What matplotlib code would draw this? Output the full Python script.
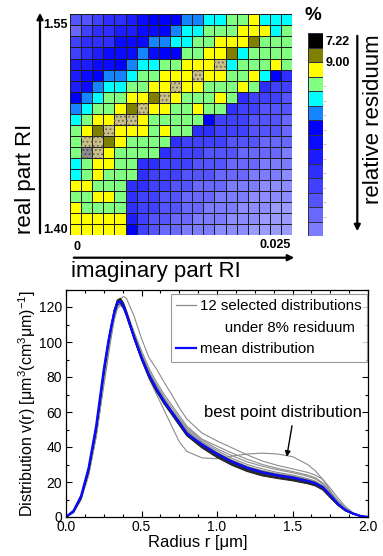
import numpy as np
import matplotlib
matplotlib.use("Agg")
import matplotlib.pyplot as plt
from matplotlib.colors import ListedColormap
from matplotlib.patches import Rectangle, FancyArrowPatch
from matplotlib.lines import Line2D

plt.rcParams['font.family'] = ['Liberation Sans', 'DejaVu Sans']
plt.rcParams['mathtext.fontset'] = 'custom'
plt.rcParams['mathtext.rm'] = 'Liberation Sans'
plt.rcParams['mathtext.it'] = 'Liberation Sans:italic'
plt.rcParams['hatch.linewidth'] = 0.8

# residuum map, read cell by cell (row 0 = real part 1.55, col 0 = imaginary part 0)
# K black, O olive, Y yellow, G green, C cyan, A azure, 6..f blues (dark -> light),
# T selected (< 8 %), S best point
map_rows = [
    "bba9987666AACCGGYCCC",
    "ca9988776ACCGGGYYYCG",
    "a999777AACCGGYYYOGGG",
    "a98777A766GGYYOCGGGG",
    "88776ACCGGYYYTCGGGYG",
    "876AACGGYYYTYYGGYC69",
    "87ACCGGYYTYYGGGYG9aa",
    "6ACGGYYOTYGGGYG9aaab",
    "ACGGYOTYYGGYGG9aabbb",
    "CGYYTTYGGGGG6aaabbbc",
    "GYOTYYYGYGG99aaabbbc",
    "GTTOYGGGG9aaaabbbccc",
    "GSTYGGGG9aaabbbccccd",
    "CGYYGG99aaabbbcccddd",
    "CGYGGG9aaabbbcccddde",
    "YYGGG99aabbcccdddeee",
    "GGYYG9aabbcccdddeeee",
    "YGGGG9aabbccdddeeeff",
    "YYYYY8abbccdddeeefff",
    "YYYYY6abccdddeeeffff",
]
cell_colors = {
    'K': '#000000', 'O': '#7f7f00', 'Y': '#ffff00', 'G': '#80ff80',
    'C': '#00ffff', 'A': '#1484ff', '6': '#0000ff', '7': '#0a0aff',
    '8': '#1c1cff', '9': '#2e2eff', 'a': '#4040ff', 'b': '#5454ff',
    'c': '#6868ff', 'd': '#7c7cff', 'e': '#8c8cff', 'f': '#9a9aff',
    'T': '#c9c088', 'S': '#8c8c8c',
}
cbar_keys = ['K', 'O', 'Y', 'G', 'C', 'A', '6', '7', '8', '9', 'a', 'b', 'c', 'd']
real_ticks = ['1.55', '1.40']
imag_ticks = ['0', '0.025']

# size distributions
radius = [0.00, 0.05, 0.10, 0.15, 0.20, 0.25, 0.28, 0.30, 0.32, 0.34, 0.36, 0.38, 0.40,
          0.45, 0.50, 0.55, 0.60, 0.65, 0.70, 0.75, 0.80, 0.90, 1.00, 1.10, 1.20, 1.30,
          1.40, 1.50, 1.60, 1.65, 1.70, 1.75, 1.80, 1.85, 1.90, 1.95, 2.00]
mean_dist = [0, 3.5, 12, 28, 52, 84, 100, 109, 117, 122.5, 123.2, 120.5, 116, 103, 91, 81, 73, 66,
             60, 54, 47.5, 41.5, 36, 31.5, 28, 25.5, 23.8, 22.5, 20.5, 19.3, 17, 12.5, 7.5, 4, 2, 0.6, 0]
best_dist = [0, 2.5, 10, 24, 46, 76, 93, 104, 113, 119, 121, 119, 115, 102, 90, 79, 70, 61,
             52, 43, 37.5, 33.8, 33.3, 34.8, 36, 36.5, 36, 34.5, 30, 26.5, 21.5, 15, 9, 5, 2, 0.5, 0]
upper1 = [0, 2.5, 10, 24, 46, 75, 92, 103, 113, 120, 124.5, 126, 125, 115, 102, 91, 84.5, 77,
          70, 62.5, 56, 48, 43.5, 39.5, 35.5, 32, 29.5, 27.5, 25.5, 24, 21.5, 16.5, 11, 6, 2.5, 0.7, 0]
upper2 = [0, 3, 11, 26, 49, 80, 97, 107, 116, 122, 124, 122, 118, 106, 95, 85, 77, 70,
          64, 58, 52, 44.5, 40.5, 36.5, 33, 30, 27.8, 26, 24, 22.5, 19.5, 14.5, 9.5, 5, 2, 0.6, 0]
c1 = [0, 3, 11, 27, 50, 82, 99, 108, 117, 123, 124, 121.5, 117, 104, 92.5, 82.5, 74.5, 67.5,
      61, 55.5, 50, 43, 38, 33.5, 30, 27.5, 25.5, 24, 22, 20.5, 18, 13, 8, 4.5, 2, 0.6, 0]
c2 = [0, 3.2, 11.5, 27, 51, 83, 99, 108, 116, 121, 122, 119.5, 115, 102, 90, 80, 72, 65,
      59.5, 53, 47, 40, 34.5, 30, 26.5, 24, 22.5, 21.2, 19.5, 18.3, 16, 11.5, 7, 3.7, 1.8, 0.5, 0]
c3 = [0, 3, 11, 26.5, 50, 82, 99, 109, 118, 123.5, 124.5, 122, 117, 103.5, 91, 80.5, 72.5, 65.5,
      60, 53.5, 47.5, 40.5, 35, 30.5, 27, 24.5, 23, 21.5, 19.8, 18.6, 16.5, 12, 7.2, 3.8, 1.9, 0.5, 0]
c4 = [0, 2.8, 10.5, 26, 49, 81, 98, 108, 118, 124, 125, 122.5, 117.5, 103, 90.5, 80, 72, 65,
      59, 52.5, 46.5, 39.5, 34, 29.5, 26, 23.5, 22, 20.7, 19, 17.8, 15.5, 11, 6.8, 3.5, 1.7, 0.5, 0]
c5 = [0, 3.3, 12, 28, 52, 83, 100, 109, 117, 122, 123.5, 121, 116.5, 103.5, 92, 82, 74, 67,
      61, 55, 49.5, 42.5, 37, 32.5, 29, 26.5, 24.8, 23.4, 21.5, 20.2, 17.8, 13, 7.8, 4.2, 2, 0.6, 0]
c6 = [0, 3, 11.5, 27.5, 51, 83, 100, 109.5, 118, 123, 123.5, 120.5, 115.5, 102.5, 90.5, 80.5, 72.5, 65.5,
      59.5, 53.5, 47.5, 40.8, 35.3, 30.8, 27.3, 24.8, 23.2, 21.8, 20, 18.8, 16.6, 12.2, 7.3, 3.9, 1.9, 0.5, 0]
c7 = [0, 2.8, 10.5, 25.5, 48.5, 80, 97, 107, 116, 122, 124, 122, 118, 105, 93.5, 83.5, 75.5, 68.5,
      62.5, 56.5, 51, 44, 39, 35, 31.5, 29, 27, 25.3, 23.3, 21.8, 19, 14, 8.5, 4.6, 2.1, 0.6, 0]
c8 = [0, 3.4, 12, 28, 52, 84, 101, 110, 118.5, 123.5, 124, 121, 116, 102.5, 90, 79.5, 71.5, 64.5,
      58.5, 52.5, 46.5, 39.8, 34.3, 29.8, 26.3, 23.8, 22.3, 21, 19.3, 18, 15.8, 11.3, 6.8, 3.6, 1.8, 0.5, 0]
c9 = [0, 3, 11, 27, 50.5, 82, 99, 108.5, 117, 122.5, 123.5, 121, 116.5, 104, 92, 81.5, 73.5, 66.5,
      60.5, 54.5, 48.5, 41.5, 36.5, 32, 28.5, 26, 24.2, 22.9, 21, 19.7, 17.3, 12.7, 7.6, 4.1, 1.9, 0.6, 0]
light_curves = [upper1, upper2, best_dist, c1, c5, c7]
dark_curves = [c2, c3, c4, c6, c8, c9]

W, H = 383, 556


def fx(x):
    return x / W


def fy(y):
    return 1 - y / H


fig = plt.figure(figsize=(W / 100, H / 100), dpi=100)

# ---- residuum map
keys = list(cell_colors.keys())
codes = np.array([[keys.index(ch) for ch in row] for row in map_rows])
ax_map = fig.add_axes([fx(70), fy(235.3), 222.3 / W, 221 / H])
ax_map.pcolormesh(codes, cmap=ListedColormap([cell_colors[k] for k in keys]),
                  vmin=-0.5, vmax=len(keys) - 0.5, edgecolors='#1e1e1e', linewidth=0.7)
for i, row in enumerate(map_rows):
    for j, ch in enumerate(row):
        if ch in 'TS':
            ax_map.add_patch(Rectangle((j, i), 1, 1, fill=False, lw=0,
                                       hatch='....', edgecolor='#6f6a50' if ch == 'T' else '#4a4a4a'))
ax_map.set_xlim(0, 20)
ax_map.set_ylim(20, 0)
ax_map.set_axis_off()

# colorbar
ax_cb = fig.add_axes([fx(308), fy(236), 15 / W, 202.7 / H])
ax_cb.pcolormesh(np.arange(len(cbar_keys)).reshape(-1, 1),
                 cmap=ListedColormap([cell_colors[k] for k in cbar_keys]),
                 edgecolors='#303048', linewidth=0.7)
ax_cb.set_ylim(len(cbar_keys), 0)
ax_cb.set_xticks([])
ax_cb.yaxis.tick_right()
ax_cb.set_yticks([k + 0.67 for k in range(3, 13)], labels=[])
ax_cb.tick_params(axis='y', colors='#f2b27a', length=2.5, width=0.6)
for s in ax_cb.spines.values():
    s.set_visible(False)
ax_cb.text(1.2, 0.58, '7.22', transform=ax_cb.transData, fontsize=9, fontweight='bold',
           ha='left', va='center')
ax_cb.text(1.2, 2.07, '9.00', transform=ax_cb.transData, fontsize=9, fontweight='bold',
           ha='left', va='center')

fig.text(fx(313), fy(16), '%', fontsize=13.5, fontweight='bold', ha='center', va='center')
fig.text(fx(68), fy(25), real_ticks[0], fontsize=9, fontweight='bold', ha='right', va='center')
fig.text(fx(68), fy(230), real_ticks[1], fontsize=9, fontweight='bold', ha='right', va='center')
fig.text(fx(74), fy(246.5), imag_ticks[0], fontsize=9, fontweight='bold', ha='left', va='center')
fig.text(fx(291), fy(245.5), imag_ticks[1], fontsize=9, fontweight='bold', ha='right', va='center')
fig.text(fx(26), fy(179), 'real part RI', fontsize=16, rotation=90, ha='center', va='center')
fig.text(fx(156), fy(271), 'imaginary part RI', fontsize=16, ha='center', va='center')
fig.text(fx(373.5), fy(119), 'relative residuum', fontsize=16, rotation=90, ha='center', va='center')

for a, b in [((40, 236), (40, 10)), ((71, 257.7), (297, 257.7)), ((357.3, 33), (357.3, 234))]:
    fig.add_artist(FancyArrowPatch((fx(a[0]), fy(a[1])), (fx(b[0]), fy(b[1])),
                                   transform=fig.transFigure, arrowstyle='-|>',
                                   mutation_scale=9, lw=1.6, color='black'))

# ---- distributions
ax = fig.add_axes([fx(66), fy(517), 302 / W, 227.5 / H])
for curve in light_curves:
    ax.plot(radius, curve, color='#8c8c8c', lw=0.8)
for curve in dark_curves:
    ax.plot(radius, curve, color='#262626', lw=0.8)
ax.plot(radius, mean_dist, color='#0a0aff', lw=1.7)

ax.set_xlim(0, 2)
ax.set_ylim(0, 130)
ax.set_xticks(np.arange(0, 2.01, 0.5))
ax.set_xticks(np.arange(0, 2.01, 0.125), minor=True)
ax.set_yticks(np.arange(0, 121, 20))
ax.set_yticks(np.arange(0, 131, 10), minor=True)
ax.xaxis.set_major_formatter(matplotlib.ticker.FormatStrFormatter('%.1f'))
ax.tick_params(which='both', direction='in', top=True, right=True, labelsize=10, width=0.8)
ax.tick_params(which='major', length=4)
ax.tick_params(which='minor', length=2.5)
ax.tick_params(axis='x', pad=2.5)
ax.tick_params(axis='y', pad=3)
for s in ax.spines.values():
    s.set_linewidth(0.9)

ax.set_xlabel('Radius r [μm]', fontsize=12)
ax.xaxis.set_label_coords(0.437, -0.080)
ax.set_ylabel('Distribution v(r) [μm$^3$(cm$^3$μm)$^{-1}$]', fontsize=11.5)
ax.yaxis.set_label_coords(-0.093, 0.5)

handles = [Line2D([], [], color='#8c8c8c', lw=0.9),
           Line2D([], [], color='none'),
           Line2D([], [], color='#0a0aff', lw=1.6)]
labels = ['12 selected distributions', '      under 8% residuum', 'mean distribution']
leg = ax.legend(handles, labels, loc='upper right', bbox_to_anchor=(0.997, 0.98),
                borderaxespad=0, fontsize=10.8, frameon=True, fancybox=False,
                edgecolor='#808080', handlelength=1.3, handletextpad=0.3,
                labelspacing=0.5, borderpad=0.35)
leg.get_frame().set_linewidth(0.8)

ax.annotate('best point distribution', xy=(1.462, 34.4), xytext=(1.435, 59.6),
            ha='center', va='center', fontsize=12,
            arrowprops=dict(arrowstyle='-|>', color='black', lw=1.0, mutation_scale=8,
                            relpos=(0.565, 0.0), shrinkA=2, shrinkB=0))

fig.savefig('out.png', dpi=100)
